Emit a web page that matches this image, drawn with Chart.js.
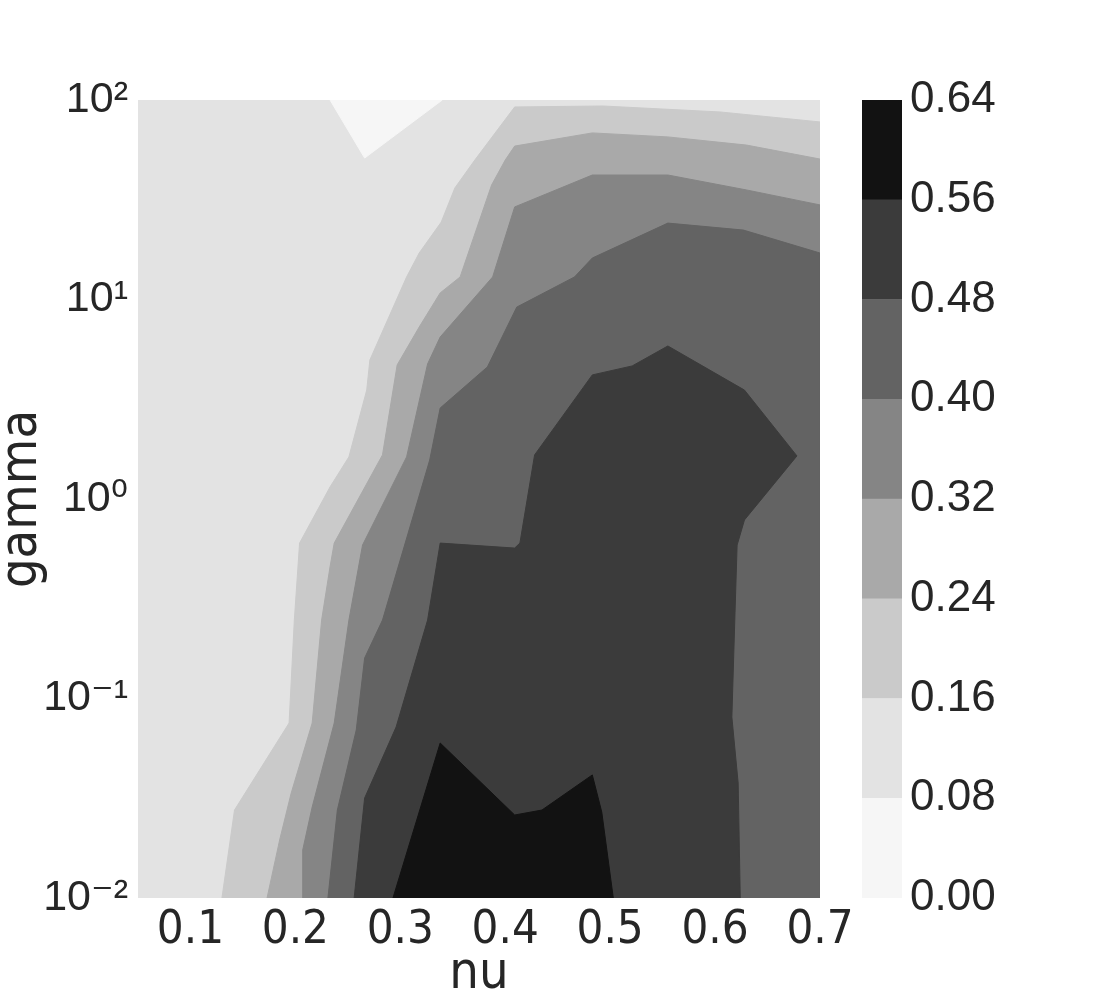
<!DOCTYPE html>
<html>
<head>
<meta charset="utf-8">
<script src="https://cdn.jsdelivr.net/npm/chart.js@4.4.1/dist/chart.umd.min.js"></script>
<style>
  html, body { margin: 0; padding: 0; background: #ffffff; }
  #wrap { position: relative; width: 1100px; height: 1000px; }
  canvas { position: absolute; top: 0; }
</style>
</head>
<body>
<div id="wrap">
  <canvas id="main" width="1100" height="1000" style="left:0"></canvas>
  <canvas id="cbar" width="250" height="1000" style="left:850px"></canvas>
</div>
<script>
// ---- data ----
const levels = [0.00, 0.08, 0.16, 0.24, 0.32, 0.40, 0.48, 0.56, 0.64];
const greys  = ['#f6f6f6', '#e3e3e3', '#cacaca', '#a9a9a9', '#858585', '#636363', '#3b3b3b', '#121212'];
const nuTicks = [0.1, 0.2, 0.3, 0.4, 0.5, 0.6, 0.7];
const gammaTicks = [0.01, 0.1, 1, 10, 100];
const gammaTickLabels = ['10\u207B\u00B2', '10\u207B\u00B9', '10\u2070', '10\u00B9', '10\u00B2'];

// contour boundaries: nu values and log10(gamma) values
// region value < 0.08 (top triangle)
const b08Nu = [0.233, 0.266, 0.340];
const b08Lg = [2.0, 1.709, 2.0];
// region value >= 0.16
const b16Nu = [0.130, 0.142, 0.194, 0.199, 0.204, 0.233, 0.251, 0.268, 0.271, 0.306, 0.318, 0.339, 0.352, 0.371, 0.409, 0.493, 0.605, 0.700, 0.700];
const b16Lg = [-2.0, -1.559, -1.123, -0.607, -0.221, 0.060, 0.211, 0.546, 0.697, 1.113, 1.233, 1.388, 1.559, 1.699, 1.965, 1.970, 1.940, 1.890, -2.0];
// region value >= 0.24
const b24Nu = [0.173, 0.185, 0.196, 0.216, 0.225, 0.233, 0.237, 0.283, 0.297, 0.318, 0.338, 0.357, 0.387, 0.400, 0.409, 0.483, 0.555, 0.630, 0.700, 0.700];
const b24Lg = [-2.0, -1.709, -1.474, -1.123, -0.607, -0.341, -0.221, 0.221, 0.672, 0.862, 1.033, 1.113, 1.574, 1.699, 1.769, 1.835, 1.815, 1.774, 1.704, -2.0];
// region value >= 0.32
const b32Nu = [0.207, 0.207, 0.216, 0.237, 0.251, 0.264, 0.306, 0.326, 0.338, 0.388, 0.409, 0.483, 0.555, 0.630, 0.700, 0.700];
const b32Lg = [-2.0, -1.759, -1.544, -1.123, -0.607, -0.231, 0.211, 0.677, 0.812, 1.113, 1.464, 1.624, 1.624, 1.549, 1.474, -2.0];
// region value >= 0.40
const b40Nu = [0.231, 0.240, 0.258, 0.266, 0.283, 0.328, 0.338, 0.383, 0.411, 0.466, 0.483, 0.555, 0.627, 0.700, 0.700];
const b40Lg = [-2.0, -1.559, -1.158, -0.797, -0.607, 0.195, 0.456, 0.662, 0.962, 1.113, 1.208, 1.383, 1.348, 1.233, -2.0];
// region value >= 0.48
const b48Nu = [0.256, 0.266, 0.296, 0.326, 0.338, 0.409, 0.414, 0.428, 0.483, 0.521, 0.555, 0.628, 0.678, 0.628, 0.621, 0.619, 0.616, 0.622, 0.624];
const b48Lg = [-2.0, -1.499, -1.143, -0.607, -0.221, -0.246, -0.221, 0.221, 0.622, 0.667, 0.767, 0.546, 0.216, -0.105, -0.231, -0.571, -1.093, -1.424, -2.0];
// region value >= 0.56
const b56Nu = [0.293, 0.338, 0.409, 0.435, 0.483, 0.492, 0.503];
const b56Lg = [-2.0, -1.223, -1.584, -1.559, -1.383, -1.569, -2.0];

// ---- build ----
const NARROW = "'Liberation Sans Narrow', 'DejaVu Sans Condensed', 'Arial Narrow', sans-serif";
const WIDE = "'Liberation Sans', Arial, 'DejaVu Sans', sans-serif";
const TXT = '#262626';

function poly(nu, lg, color, order) {
  return {
    data: nu.map((v, i) => ({ x: v, y: Math.pow(10, lg[i]) })),
    showLine: true,
    fill: 'shape',
    backgroundColor: color,
    borderColor: color,
    borderWidth: 1,
    pointRadius: 0,
    pointHoverRadius: 0,
    tension: 0,
    clip: 0,
    order: order
  };
}

const regions = [
  [b16Nu, b16Lg, greys[2]],
  [b24Nu, b24Lg, greys[3]],
  [b32Nu, b32Lg, greys[4]],
  [b40Nu, b40Lg, greys[5]],
  [b48Nu, b48Lg, greys[6]],
  [b56Nu, b56Lg, greys[7]],
  [b08Nu, b08Lg, greys[0]]
];
const datasets = regions.map((r, i) => poly(r[0], r[1], r[2], 20 - i));

const bgPlugin = {
  id: 'areaBg',
  beforeDatasetsDraw(chart) {
    const a = chart.chartArea, ctx = chart.ctx;
    ctx.save();
    ctx.fillStyle = greys[1];
    ctx.fillRect(a.left, a.top, a.right - a.left, a.bottom - a.top);
    ctx.restore();
  }
};

new Chart(document.getElementById('main'), {
  type: 'scatter',
  data: { datasets },
  plugins: [bgPlugin],
  options: {
    responsive: false,
    animation: false,
    devicePixelRatio: 1,
    layout: { padding: { top: 100, right: 280, bottom: 0, left: 0 } },
    plugins: { legend: { display: false }, tooltip: { enabled: false } },
    scales: {
      x: {
        type: 'linear', min: 0.05, max: 0.7,
        grid: { display: false, drawTicks: false },
        border: { display: false },
        afterFit(s) { s.height = 102; },
        afterBuildTicks(s) { s.ticks = nuTicks.map(v => ({ value: v })); },
        ticks: {
          autoSkip: false, maxRotation: 0, padding: 5, color: TXT,
          font: { family: NARROW, size: 47 },
          callback: v => String(v)
        },
        title: { display: true, text: 'nu', color: TXT, padding: 0,
          font: { family: NARROW, size: 52, lineHeight: 1.0 } }
      },
      y: {
        type: 'logarithmic', min: 0.01, max: 100,
        grid: { display: false, drawTicks: false },
        border: { display: false },
        afterFit(s) { s.width = 138; },
        afterBuildTicks(s) { s.ticks = gammaTicks.map(v => ({ value: v })); },
        ticks: {
          autoSkip: false, padding: 10, color: TXT,
          font: { family: WIDE, size: 43 },
          callback: function (v) { const i = gammaTicks.indexOf(v); return i >= 0 ? gammaTickLabels[i] : ''; }
        },
        title: { display: true, text: 'gamma', color: TXT, padding: 0,
          font: { family: NARROW, size: 52, lineHeight: 0.85 } }
      }
    }
  }
});

// ---- colorbar ----
const cbDatasets = greys.map((c, i) => ({
  data: [levels[i + 1] - levels[i]],
  backgroundColor: c,
  borderWidth: 0,
  barPercentage: 1,
  categoryPercentage: 1
}));

new Chart(document.getElementById('cbar'), {
  type: 'bar',
  data: { labels: [''], datasets: cbDatasets },
  options: {
    responsive: false,
    animation: false,
    devicePixelRatio: 1,
    layout: { padding: { top: 100, right: 0, bottom: 102, left: 12 } },
    plugins: { legend: { display: false }, tooltip: { enabled: false } },
    scales: {
      x: { stacked: true, display: false },
      y: {
        stacked: true, position: 'right', min: 0, max: 0.64,
        grid: { display: false, drawTicks: false },
        border: { display: false },
        afterFit(s) { s.width = 198; },
        afterBuildTicks(s) { s.ticks = levels.map(v => ({ value: v })); },
        ticks: {
          autoSkip: false, padding: 8, color: TXT,
          font: { family: WIDE, size: 44 },
          callback: v => Number(v).toFixed(2)
        }
      }
    }
  }
});
</script>
</body>
</html>
